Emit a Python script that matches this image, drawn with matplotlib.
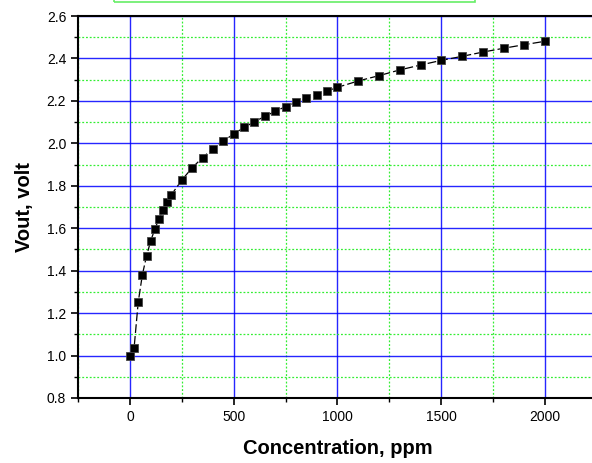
import matplotlib

matplotlib.use("Agg")
import matplotlib.pyplot as plt
from matplotlib.patches import Rectangle
from matplotlib.ticker import MultipleLocator

# concentration (ppm) vs output voltage (V)
conc = [0, 20, 40, 60, 80, 100, 120, 140, 160, 180, 200, 250, 300, 350, 400,
        450, 500, 550, 600, 650, 700, 750, 800, 850, 900, 950, 1000, 1100,
        1200, 1300, 1400, 1500, 1600, 1700, 1800, 1900, 2000]
vout = [1.000, 1.035, 1.252, 1.381, 1.469, 1.540, 1.596, 1.645, 1.686, 1.723,
        1.758, 1.827, 1.885, 1.933, 1.975, 2.011, 2.044, 2.075, 2.102, 2.127,
        2.151, 2.173, 2.193, 2.212, 2.229, 2.247, 2.264, 2.294, 2.319, 2.346,
        2.369, 2.391, 2.410, 2.430, 2.448, 2.465, 2.481]

plt.rcParams["font.family"] = ["Liberation Sans", "DejaVu Sans"]

fig = plt.figure(figsize=(5.92, 4.63), dpi=100)
ax = fig.add_axes([0.1318, 0.1404, 0.8766, 0.825])

ax.plot(conc, vout, color="black", lw=0.9, ls=(0, (7, 2.5)),
        marker="s", ms=5.3, mfc="black", mec="#444444", mew=0.6, zorder=5)

ax.set_xlim(-250, 2250)
ax.set_ylim(0.8, 2.6)
ax.xaxis.set_major_locator(MultipleLocator(500))
ax.xaxis.set_minor_locator(MultipleLocator(250))
ax.yaxis.set_major_locator(MultipleLocator(0.2))
ax.yaxis.set_minor_locator(MultipleLocator(0.1))
ax.yaxis.set_major_formatter(matplotlib.ticker.FormatStrFormatter("%.1f"))

ax.grid(True, which="major", color="#0000ff", lw=1.0, alpha=0.85)
ax.grid(True, which="minor", color="#33ee33", lw=0.9, ls=(0, (1.5, 1.5)))
ax.set_axisbelow(True)

ax.tick_params(which="major", direction="out", length=5, width=1.2,
               labelsize=10)
ax.tick_params(which="minor", direction="out", length=3, width=1.0)
for s in ("left", "bottom", "top"):
    ax.spines[s].set_linewidth(1.5)
ax.spines["right"].set_visible(False)

ax.set_xlabel("Concentration, ppm", fontsize=14.5, fontweight="bold",
              labelpad=11)
ax.set_ylabel("Vout, volt", fontsize=14.5, fontweight="bold", labelpad=9)

# legend frame poking in from the top edge
fig.patches.append(Rectangle((114 / 592, 1 - 1.5 / 463), 361 / 592, 0.05,
                             transform=fig.transFigure, fill=False,
                             edgecolor="#66ee66", lw=1.2, clip_on=False))

fig.savefig("out.png", dpi=100)
